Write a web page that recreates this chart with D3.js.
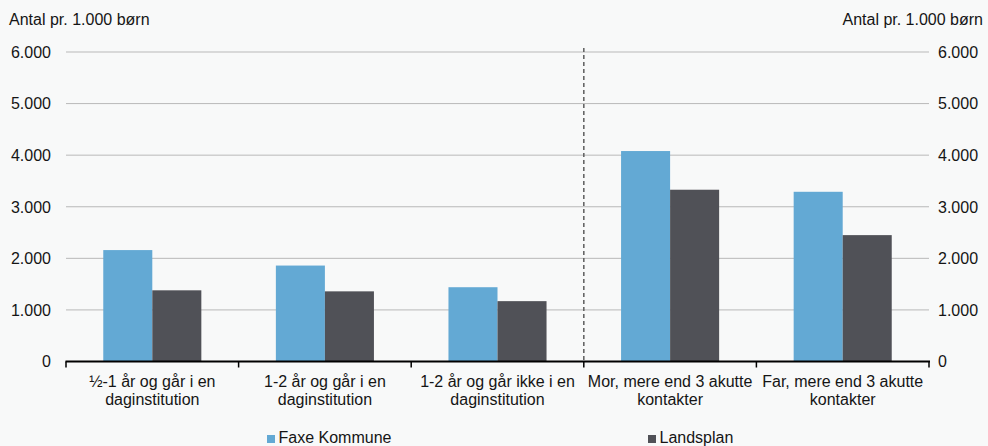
<!DOCTYPE html>
<html lang="da">
<head>
<meta charset="utf-8">
<title>Antal pr. 1.000 børn</title>
<script src="https://d3js.org/d3.v7.min.js"></script>
<style>
  html, body { margin: 0; padding: 0; background: #f8f9f9; }
  svg { display: block; font-family: "Liberation Sans", Arial, sans-serif; }
</style>
</head>
<body>
<div id="mainDiv"></div>
<script>
const width = 988
const height = 446

// data
const categories = [
    ['½-1 år og går i en', 'daginstitution'],
    ['1-2 år og går i en', 'daginstitution'],
    ['1-2 år og går ikke i en', 'daginstitution'],
    ['Mor, mere end 3 akutte', 'kontakter'],
    ['Far, mere end 3 akutte', 'kontakter']
]
const seriesNames = ['Faxe Kommune', 'Landsplan']
const faxe = [2160, 1860, 1440, 4080, 3290]
const landsplan = [1380, 1360, 1170, 3330, 2450]
const yTicks = [0, 1000, 2000, 3000, 4000, 5000, 6000]
const axisTitle = 'Antal pr. 1.000 børn'

const colors = ['#63a9d4', '#505157']

const margins = { top: 52, bottom: 84.5, left: 66, right: 59 }
const plot = {
    width: width - margins.left - margins.right,
    height: height - margins.top - margins.bottom
}

const fmt = d => d3.format(',')(d).replace(/,/g, '.')

const svg = d3.select('#mainDiv').append('svg')
    .attr('width', width)
    .attr('height', height)

svg.append('rect').attr('width', width).attr('height', height).attr('fill', '#f8f9f9')

const g = svg.append('g')
    .attr('transform', `translate(${margins.left}, ${margins.top})`)

const idx = d3.range(categories.length)
const x = d3.scaleBand().domain(idx).range([0, plot.width]).paddingInner(0).paddingOuter(0)
const x1 = d3.scaleBand().domain(seriesNames).range([0, x.bandwidth()]).paddingInner(0).paddingOuter(0.76)
const y = d3.scaleLinear().domain([0, 6000]).range([plot.height, 0])

// gridlines
g.selectAll('.grid')
    .data(yTicks.filter(d => d > 0))
    .enter().append('line')
    .attr('x1', 0).attr('x2', plot.width)
    .attr('y1', d => y(d)).attr('y2', d => y(d))
    .attr('stroke', '#b9b9b9').attr('stroke-width', 1)

// left axis labels
g.selectAll('.ylab')
    .data(yTicks)
    .enter().append('text')
    .attr('x', -15).attr('y', d => y(d))
    .attr('dy', '0.36em')
    .attr('text-anchor', 'end')
    .attr('font-size', 16).attr('fill', '#151515')
    .text(fmt)

// right axis labels
g.selectAll('.ylab2')
    .data(yTicks)
    .enter().append('text')
    .attr('x', plot.width + 9).attr('y', d => y(d))
    .attr('dy', '0.36em')
    .attr('text-anchor', 'start')
    .attr('font-size', 16).attr('fill', '#151515')
    .text(fmt)

// axis titles
svg.append('text').attr('x', 9).attr('y', 25)
    .attr('font-size', 16).attr('fill', '#151515').text(axisTitle)
svg.append('text').attr('x', 983).attr('y', 25).attr('text-anchor', 'end')
    .attr('font-size', 16).attr('fill', '#151515').text(axisTitle)

// bars
const series = [faxe, landsplan]
const groups = g.selectAll('.cat')
    .data(idx)
    .enter().append('g')
    .attr('transform', i => `translate(${x(i)}, 0)`)

groups.selectAll('rect')
    .data(i => seriesNames.map((s, k) => ({ s, k, v: series[k][i] })))
    .enter().append('rect')
    .attr('x', d => x1(d.s))
    .attr('width', x1.bandwidth())
    .attr('y', d => y(d.v))
    .attr('height', d => y(0) - y(d.v))
    .attr('fill', d => colors[d.k])

// dashed separator between category 3 and 4
g.append('line')
    .attr('x1', x(3)).attr('x2', x(3))
    .attr('y1', -4).attr('y2', plot.height)
    .attr('stroke', '#666').attr('stroke-width', 1.6)
    .attr('stroke-dasharray', '4,3')

// baseline with ticks
g.append('line')
    .attr('x1', -0.5).attr('x2', plot.width + 1)
    .attr('y1', plot.height).attr('y2', plot.height)
    .attr('stroke', '#000').attr('stroke-width', 2)

g.selectAll('.tick')
    .data(d3.range(categories.length + 1))
    .enter().append('line')
    .attr('x1', i => i * x.step()).attr('x2', i => i * x.step())
    .attr('y1', plot.height).attr('y2', plot.height + 6)
    .attr('stroke', '#000').attr('stroke-width', 1.5)

// category labels
const labels = g.selectAll('.catlab')
    .data(idx)
    .enter().append('text')
    .attr('text-anchor', 'middle')
    .attr('font-size', 16).attr('fill', '#151515')
    .attr('transform', i => `translate(${x(i) + x.bandwidth() / 2}, ${plot.height + 25.5})`)

labels.selectAll('tspan')
    .data(i => categories[i])
    .enter().append('tspan')
    .attr('x', 0)
    .attr('dy', (d, k) => k === 0 ? 0 : 17.5)
    .text(d => d)

// legend
const legendX = [267, 648]
const legend = svg.selectAll('.legend')
    .data(seriesNames)
    .enter().append('g')
    .attr('transform', (d, k) => `translate(${legendX[k]}, 437)`)

legend.append('rect')
    .attr('x', 0).attr('y', -2).attr('width', 8).attr('height', 8)
    .attr('fill', (d, k) => colors[k])

legend.append('text')
    .attr('x', 11.5).attr('y', 0).attr('dy', '0.36em')
    .attr('font-size', 16).attr('fill', '#151515')
    .text(d => d)
</script>
</body>
</html>
